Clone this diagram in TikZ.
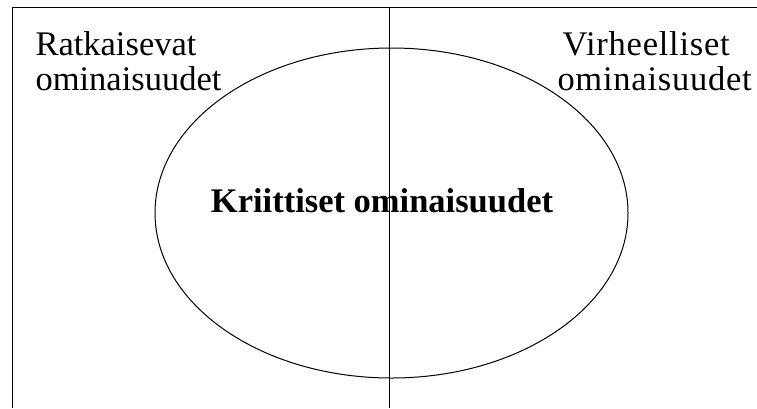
\documentclass[tikz,border=0pt]{standalone}
\usepackage{fontspec}
\setmainfont{Liberation Serif}
\usetikzlibrary{positioning, shapes.geometric}

\begin{document}
\begin{tikzpicture}[
    x=1pt, y=-1pt,
    line width=1pt,
    label/.style={
        inner sep=0pt,
        anchor=base west,
        font=\fontsize{34.5}{35}\selectfont
    },
    spaced/.style={
        label,
        font=\fontsize{34.5}{35}\selectfont\addfontfeature{LetterSpace=2.2}
    },
    central/.style={
        inner sep=0pt,
        anchor=base,
        font=\fontsize{34.5}{35}\selectfont\bfseries
    },
    set/.style={
        ellipse,
        draw,
        minimum width=473pt,
        minimum height=330pt
    }
]

    \useasboundingbox (0,0) rectangle (757,408);

    % Frame
    \coordinate (topleft) at (12,7);
    \coordinate (topright) at (757,7);
    \coordinate (botleft) at (12,408);
    \draw (botleft) -- (topleft) -- (topright);

    % Divider
    \coordinate (divtop) at (389,7);
    \coordinate (divbot) at (389,408);
    \draw (divtop) -- (divbot);

    % --- Ellipse ---
    \node[set] (crit) at (391.5,213) {};
    \node[central] (crit_text) at (382,212) {Kriittiset ominaisuudet};

    % --- Left labels ---
    \node[label] (left_a) at (35,55) {Ratkaisevat};
    \node[label] (left_b) at (35,90) {ominaisuudet};

    % --- Right labels ---
    \node[spaced] (right_a) at (562,55) {Virheelliset};
    \node[spaced] (right_b) at (557,90) {ominaisuudet};

\end{tikzpicture}
\end{document}
